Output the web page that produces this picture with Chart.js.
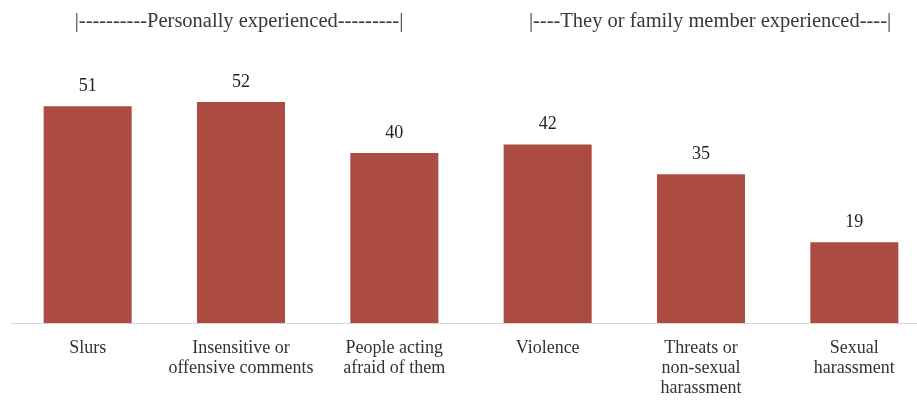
<!DOCTYPE html>
<html>
<head>
<meta charset="utf-8">
<script src="https://cdn.jsdelivr.net/npm/chart.js@4.4.1/dist/chart.umd.min.js"></script>
<style>
  html, body { margin: 0; padding: 0; background: #fff; overflow: hidden; }
  #wrap { width: 935px; height: 401px; position: relative; }
</style>
</head>
<body>
<div id="wrap"><canvas id="c"></canvas></div>
<script>
// ─── 資料 ────────────────────────────────────────────
const categories = [
  'Slurs',
  ['Insensitive or', 'offensive comments'],
  ['People acting', 'afraid of them'],
  'Violence',
  ['Threats or', 'non-sexual', 'harassment'],
  ['Sexual', 'harassment']
];
const values = [51, 52, 40, 42, 35, 19];
const groupHeaders = [
  { text: '|----------Personally experienced---------|', from: 0, to: 2 },
  { text: '|----They or family member experienced----|', from: 3, to: 5 }
];

const SERIF = "'Liberation Serif', 'Times New Roman', serif";
const BAR = '#ab4b42';

// ─── 數值標籤 + 分組標題 ─────────────────────────────
const labelsPlugin = {
  id: 'labels',
  afterDatasetsDraw(chart) {
    const ctx = chart.ctx;
    const meta = chart.getDatasetMeta(0);
    ctx.save();
    ctx.font = '18px ' + SERIF;
    ctx.fillStyle = '#222';
    ctx.textAlign = 'center';
    ctx.textBaseline = 'middle';
    meta.data.forEach((bar, i) => {
      ctx.fillText(values[i], bar.x, bar.y - 20);
    });
    const xs = chart.scales.x;
    ctx.font = '20.5px ' + SERIF;
    ctx.fillStyle = '#383838';
    groupHeaders.forEach(g => {
      const cx = (xs.getPixelForValue(g.from) + xs.getPixelForValue(g.to)) / 2;
      ctx.fillText(g.text, cx + (g.from === 3 ? 9 : -2), 22);
    });
    ctx.restore();
  }
};

new Chart(document.getElementById('c'), {
  type: 'bar',
  data: {
    labels: categories,
    datasets: [{
      data: values,
      backgroundColor: BAR,
      borderWidth: 0,
      barPercentage: 0.574,
      categoryPercentage: 1
    }]
  },
  options: {
    responsive: true,
    maintainAspectRatio: false,
    animation: false,
    layout: { padding: { left: 11, right: 4, top: 68, bottom: 0 } },
    plugins: { legend: { display: false }, tooltip: { enabled: false } },
    scales: {
      x: {
        grid: { display: false, drawTicks: false },
        border: { display: true, color: '#d6d6d6', width: 1 },
        ticks: {
          font: { family: SERIF, size: 18, lineHeight: 1.11 },
          color: '#333',
          padding: 15,
          maxRotation: 0,
          autoSkip: false
        },
        afterFit(s) { s.height = 78; }
      },
      y: {
        display: false,
        min: 0,
        max: 60
      }
    }
  },
  plugins: [labelsPlugin]
});
</script>
</body>
</html>
